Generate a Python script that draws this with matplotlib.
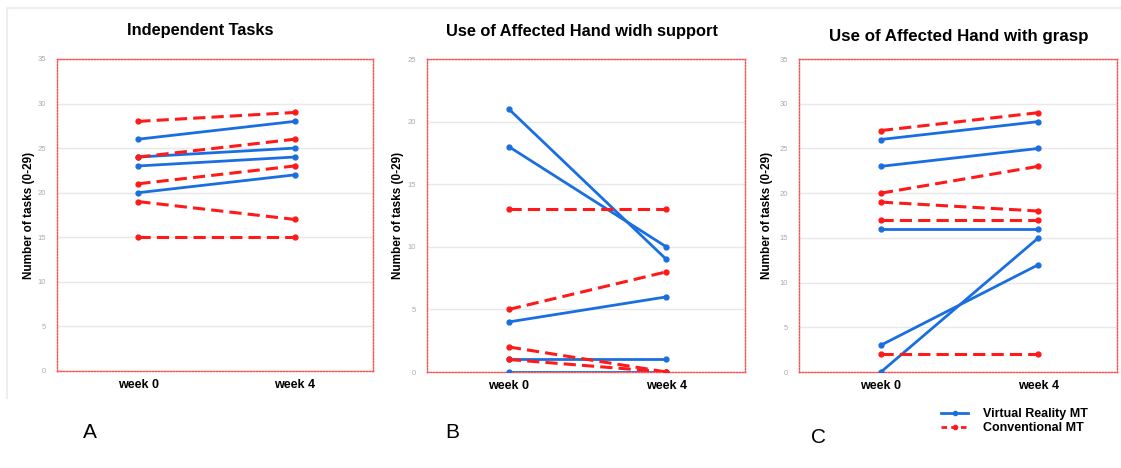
import numpy as np
import matplotlib
matplotlib.use("Agg")
import matplotlib.pyplot as plt
from matplotlib.lines import Line2D

plt.rcParams['font.family'] = ['Liberation Sans', 'DejaVu Sans']

weeks = ["week 0", "week 4"]

# Independent Tasks
a_vr = [[26, 28], [24, 25], [23, 24], [20, 22]]
a_conv = [[28, 29], [24, 26], [21, 23], [19, 17], [15, 15]]

# Use of Affected Hand widh support
b_vr = [[21, 9], [18, 10], [4, 6], [1, 1], [0, 0]]
b_conv = [[13, 13], [5, 8], [2, 0], [1, 0]]

# Use of Affected Hand with grasp
c_vr = [[26, 28], [23, 25], [16, 16], [3, 12], [0, 15]]
c_conv = [[27, 29], [20, 23], [19, 18], [17, 17], [2, 2]]

titles = ["Independent Tasks", "Use of Affected Hand widh support",
          "Use of Affected Hand with grasp"]
ymax = [35, 25, 35]
letters = ["A", "B", "C"]

blue = "#1a6fe0"
red = "#ff1a1a"

fig = plt.figure(figsize=(11.21, 4.68), dpi=100)

boxes = [[0.0508, 0.2073, 0.2819, 0.6667],
         [0.3809, 0.2051, 0.2837, 0.6688],
         [0.7128, 0.2051, 0.2837, 0.6688]]
title_x = [0.179, 0.519, 0.855]
title_y = [0.935, 0.932, 0.921]
title_size = [11.8, 11.8, 12.2]
letter_pos = [(0.080, 0.075), (0.403, 0.075), (0.730, 0.065)]
ylab_x = [-0.070, -0.072, -0.081]

panels = [(a_vr, a_conv), (b_vr, b_conv), (c_vr, c_conv)]

for i, (vr, conv) in enumerate(panels):
    ax = fig.add_axes(boxes[i])
    x = np.arange(len(weeks))
    for v in vr:
        ax.plot(x, v, color=blue, lw=2, marker="o", ms=3.5, zorder=3)
    for c in conv:
        ax.plot(x, c, color=red, lw=2.2, ls=(0, (4, 2)), marker="o", ms=3.5, zorder=4)
    ax.set_xlim(-0.52, 1.5)
    ax.set_ylim(0, ymax[i])
    ax.set_yticks(np.arange(0, ymax[i] + 1, 5))
    ax.set_xticks(x)
    ax.set_xticklabels(weeks, fontsize=9, fontweight="bold")
    ax.tick_params(axis="y", length=0, labelsize=5.5, labelcolor="#aaaaaa", pad=8)
    ax.tick_params(axis="x", length=0, pad=6)
    ax.grid(axis="y", color="#e8e8e8", lw=1)
    ax.set_axisbelow(True)
    for s in ax.spines.values():
        s.set_color("#ff4d4d")
        s.set_linestyle((0, (1, 1.2)))
        s.set_linewidth(1.0)
    ax.set_ylabel("Number of tasks (0-29)", fontsize=8.5, fontweight="bold")
    ax.yaxis.set_label_coords(ylab_x[i], 0.5)
    fig.text(title_x[i], title_y[i], titles[i],
             ha="center", va="center", fontsize=title_size[i], fontweight="bold")
    fig.text(letter_pos[i][0], letter_pos[i][1], letters[i], fontsize=15,
             ha="center", va="center")

# faint panel outline
fig.add_artist(Line2D([0.006, 0.999], [0.983, 0.983], color="#eeeeee", lw=1.5))
fig.add_artist(Line2D([0.006, 0.006], [0.983, 0.15], color="#eeeeee", lw=1.5))

handles = [Line2D([], [], color=blue, lw=2, marker="o", ms=3),
           Line2D([], [], color=red, lw=2, ls=(0, (2, 1.5)), marker="o", ms=3)]
fig.legend(handles, ["Virtual Reality MT", "Conventional MT"],
           loc="center", bbox_to_anchor=(0.905, 0.10), frameon=False,
           prop={"weight": "bold", "size": 9}, handlelength=2.2,
           labelspacing=0.15, handletextpad=1.2)

fig.savefig("out.png", dpi=100, facecolor="white")
